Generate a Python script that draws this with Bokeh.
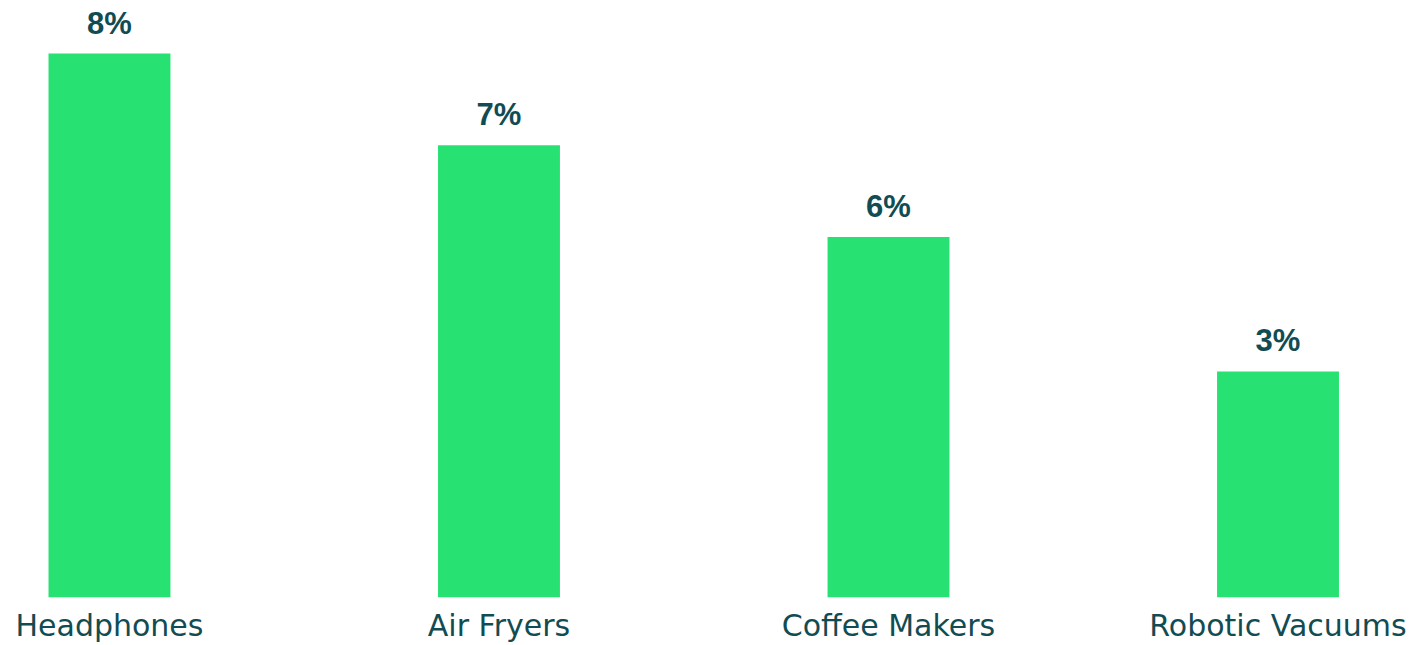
from bokeh.plotting import figure
from bokeh.models import ColumnDataSource, Range1d, FixedTicker, LabelSet
from bokeh.core.properties import value
from bokeh.embed import file_html
from bokeh.resources import INLINE

categories = ["Headphones", "Air Fryers", "Coffee Makers", "Robotic Vacuums"]
values = [8.3, 6.9, 5.5, 3.45]
labels = ["8%", "7%", "6%", "3%"]

xs = list(range(len(categories)))
src = ColumnDataSource(dict(x=xs, top=values, label=labels, cat=categories))

p = figure(width=1418, height=645, output_backend="svg", toolbar_location=None,
           x_range=Range1d(-0.2798, 3.3607), y_range=Range1d(0, 9.11),
           min_border_left=0, min_border_right=0, min_border_top=0, min_border_bottom=47)
p.vbar(x="x", top="top", width=0.313, bottom=0, source=src, color="#27e272", line_color=None)

p.add_layout(LabelSet(x="x", y="top", text="label", source=src, text_align="center",
                      text_baseline="alphabetic", y_offset=20, text_font=value("Arial"),
                      text_font_style="bold", text_font_size="31px", text_color="#124c53"))

p.xaxis.ticker = FixedTicker(ticks=xs)
p.xaxis.major_label_overrides = {i: c for i, c in zip(xs, categories)}
p.xaxis.axis_line_color = None
p.xaxis.major_tick_line_color = None
p.xaxis.minor_tick_line_color = None
p.xaxis.major_tick_out = 0
p.xaxis.major_tick_in = 0
p.xaxis.major_label_text_font = "DejaVu Sans"
p.xaxis.major_label_text_font_size = "30px"
p.xaxis.major_label_text_color = "#124c53"
p.xaxis.major_label_standoff = 10
p.yaxis.visible = False
p.xgrid.visible = False
p.ygrid.visible = False
p.outline_line_color = None

open("out.html", "w").write(file_html(p, INLINE))
